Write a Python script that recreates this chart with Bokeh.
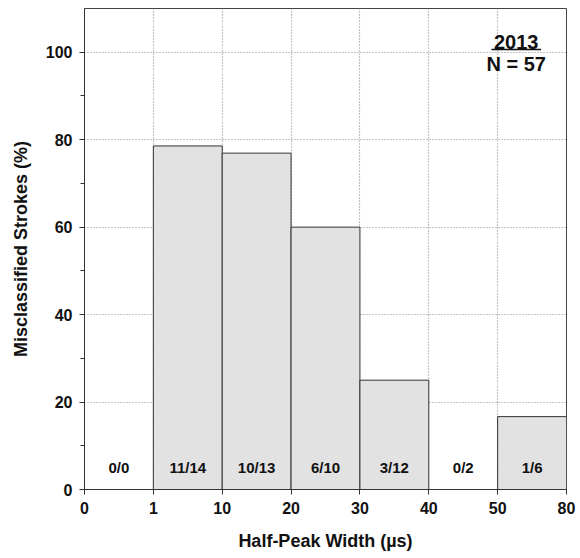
from bokeh.plotting import figure
from bokeh.models import Range1d, FixedTicker, Label, ColumnDataSource
from bokeh.core.properties import value
from bokeh.embed import file_html
from bokeh.resources import INLINE

# Half-peak width bins (µs) and misclassification counts per bin
bin_edges = ["0", "1", "10", "20", "30", "40", "50", "80"]
misclassified = [0, 11, 10, 6, 3, 0, 1]
totals = [0, 14, 13, 10, 12, 2, 6]
y_ticks = [0, 20, 40, 60, 80, 100]
year = "2013"
n_total = 57

FONT_NAME = "Liberation Sans"
FONT = value(FONT_NAME)

pct = [100.0 * m / t if t else 0.0 for m, t in zip(misclassified, totals)]
idx = list(range(len(totals)))

bars = ColumnDataSource(dict(
    left=[i for i in idx if totals[i] > 0],
    right=[i + 1 for i in idx if totals[i] > 0],
    top=[pct[i] for i in idx if totals[i] > 0],
))
labels = ColumnDataSource(dict(
    x=[i + 0.5 for i in idx],
    y=[5] * len(idx),
    text=[f"{m}/{t}" for m, t in zip(misclassified, totals)],
))

p = figure(width=580, height=558, x_range=Range1d(0, len(totals)), y_range=Range1d(0, 110),
           output_backend="svg", toolbar_location=None)
p.min_border_left = 84
p.min_border_right = 14
p.min_border_top = 8
p.min_border_bottom = 69
p.background_fill_color = "white"
p.border_fill_color = "white"
p.outline_line_color = "#444444"
p.outline_line_width = 1

p.quad(left="left", right="right", bottom=0, top="top", source=bars,
       fill_color="#e2e2e2", line_color="#333333", line_width=1)

p.text(x="x", y="y", text="text", source=labels, text_font=FONT, text_font_style="bold",
       text_font_size="15px", text_align="center", text_baseline="middle", text_color="#111111")

# Axes
p.xaxis.ticker = FixedTicker(ticks=list(range(len(bin_edges))), minor_ticks=[])
p.xaxis.major_label_overrides = {i: lab for i, lab in enumerate(bin_edges)}
p.yaxis.ticker = FixedTicker(ticks=y_ticks, minor_ticks=[10, 30, 50, 70, 90])
p.xaxis.axis_label = "Half-Peak Width (µs)"
p.yaxis.axis_label = "Misclassified Strokes (%)"
for ax in (p.xaxis, p.yaxis):
    ax.axis_line_color = "#333333"
    ax.major_tick_line_color = "#333333"
    ax.minor_tick_line_color = "#333333"
    ax.major_tick_in = 0
    ax.major_tick_out = 5
    ax.minor_tick_in = 0
    ax.minor_tick_out = 4
    ax.major_label_text_font = FONT_NAME
    ax.major_label_text_font_style = "bold"
    ax.major_label_text_font_size = "16px"
    ax.major_label_text_color = "#111111"
    ax.axis_label_text_font = FONT_NAME
    ax.axis_label_text_font_style = "bold"
    ax.axis_label_text_font_size = "18px"
    ax.axis_label_text_color = "#111111"
p.xaxis.major_label_standoff = 7
p.yaxis.major_label_standoff = 7
p.xaxis.axis_label_standoff = 14
p.yaxis.axis_label_standoff = 12

# Dotted grid at bin edges and major y ticks
p.xgrid.ticker = FixedTicker(ticks=list(range(1, len(totals))))
p.ygrid.ticker = FixedTicker(ticks=y_ticks[1:])
for g in (p.xgrid, p.ygrid):
    g.grid_line_color = "#8a8a8a"
    g.grid_line_dash = "1 2"
    g.grid_line_width = 1.2

# Year / sample size annotation
ann_x = 6.27
p.add_layout(Label(x=ann_x, y=102.4, text=year, text_font=FONT_NAME, text_font_style="bold",
                   text_font_size="20px", text_align="center", text_baseline="middle",
                   text_color="#111111"))
p.segment(x0=[ann_x - 0.36], x1=[ann_x + 0.36], y0=[100.6], y1=[100.6],
          line_color="#111111", line_width=1.5)
p.add_layout(Label(x=ann_x, y=97.4, text=f"N = {n_total}", text_font=FONT_NAME, text_font_style="bold",
                   text_font_size="20px", text_align="center", text_baseline="middle",
                   text_color="#111111"))

open("out.html", "w").write(file_html(p, INLINE))
